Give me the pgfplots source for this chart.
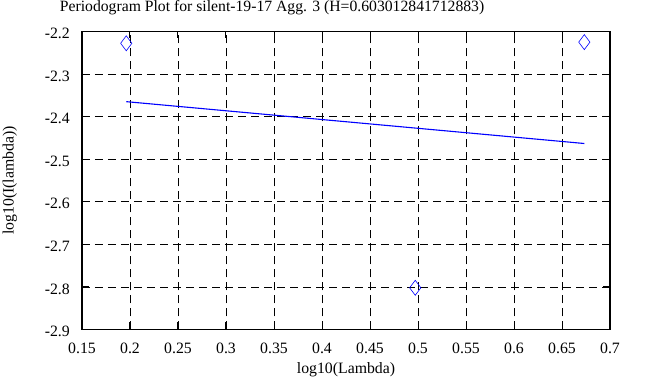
\documentclass[border=0pt]{standalone}
\usepackage{fontspec}
\setmainfont{Liberation Serif}
\usepackage{pgfplots}
\pgfplotsset{compat=1.18}
\begin{document}
\begin{tikzpicture}[x=1pt,y=1pt]
\useasboundingbox (-82,-57.5) rectangle (581,329.5);
\begin{axis}[
  at={(0,0)}, anchor=south west,
  scale only axis, width=528pt, height=298pt,
  xmin=0.15, xmax=0.7, ymin=-2.9, ymax=-2.2,
  xtick={0.15,0.2,0.25,0.3,0.35,0.4,0.45,0.5,0.55,0.6,0.65,0.7},
  xticklabels={0.15,0.2,0.25,0.3,0.35,0.4,0.45,0.5,0.55,0.6,0.65,0.7},
  ytick={-2.9,-2.8,-2.7,-2.6,-2.5,-2.4,-2.3,-2.2},
  yticklabels={-2.9,-2.8,-2.7,-2.6,-2.5,-2.4,-2.3,-2.2},
  tick align=inside, major tick length=7pt, tick style={black, line width=1pt},
  axis line style={line width=1.8pt},
  grid=major, grid style={black, line width=0.7pt, dash pattern=on 8pt off 5pt},
  ticklabel style={font=\fontsize{15.8}{15.8}\selectfont, inner sep=0pt},
  xticklabel style={anchor=base, yshift=-24.5pt},
  yticklabel style={anchor=east, xshift=-12pt, yshift=-2pt},
  label style={font=\fontsize{15.8}{15.8}\selectfont, inner sep=0pt},
  xlabel={log10(Lambda)}, ylabel={log10(I(lambda))},
  xlabel style={at={(axis description cs:0.5,-0.146)}, anchor=base},
  ylabel style={at={(axis description cs:-0.1297,0.5)}, anchor=base},
  title={Periodogram Plot for silent-19-17 Agg. 3 (H=0.603012841712883)},
  title style={font=\fontsize{15.7}{15.7}\selectfont, inner sep=0pt, at={(axis description cs:0.36,1.047)}, anchor=base},
]
\addplot[blue, line width=1.1pt] coordinates {(0.19612,-2.3648) (0.67324,-2.4631)};
\addplot[only marks, mark=diamond, mark size=7.5pt, mark options={blue, line width=0.6pt, fill=none}]
  coordinates {(0.19612,-2.2277) (0.49715,-2.8020) (0.67324,-2.2250)};
\end{axis}
\end{tikzpicture}
\end{document}
